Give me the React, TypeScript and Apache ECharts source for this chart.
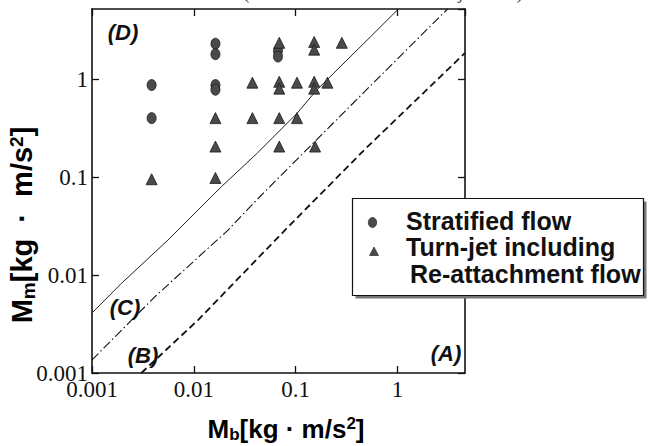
import { useEffect, useRef } from 'react';
import * as echarts from 'echarts';

// ---- data ----
const xTickLabels = ['0.001', '0.01', '0.1', '1'];
const yTickLabels = ['0.001', '0.01', '0.1', '1'];
const X_MIN = 0.001;
const X_MAX = 4.6;
const Y_MIN = 0.001;
const Y_MAX = 5.2;

const stratifiedFlow: [number, number][] = [
  [0.00385, 0.87],
  [0.00385, 0.4],
  [0.0163, 2.3],
  [0.0163, 1.8],
  [0.0163, 0.87],
  [0.0163, 0.78],
  [0.067, 1.95],
  [0.067, 1.7],
];

const turnJetFlow: [number, number][] = [
  [0.00385, 0.095],
  [0.0163, 0.4],
  [0.0163, 0.205],
  [0.0163, 0.098],
  [0.0376, 0.92],
  [0.0376, 0.4],
  [0.069, 2.35],
  [0.069, 0.94],
  [0.069, 0.8],
  [0.069, 0.4],
  [0.069, 0.205],
  [0.103, 0.92],
  [0.103, 0.4],
  [0.152, 2.4],
  [0.152, 2.0],
  [0.152, 0.94],
  [0.152, 0.8],
  [0.155, 0.205],
  [0.205, 0.92],
  [0.284, 2.35],
];

// boundary between regions (C) and (D) – solid
const boundaryCD: [number, number][] = [
  [0.001, 0.0041],
  [0.00194, 0.0082],
  [0.00558, 0.0228],
  [0.0187, 0.08],
  [0.0416, 0.174],
  [0.103, 0.447],
  [0.16, 0.77],
  [0.542, 2.7],
  [1.02, 5.2],
];

// boundary between regions (B) and (C) – dash-dot
const boundaryBC: [number, number][] = [
  [0.001, 0.00136],
  [0.00414, 0.006],
  [0.0217, 0.0288],
  [0.0444, 0.063],
  [0.53, 0.835],
  [3.1, 5.2],
];

// boundary between regions (A) and (B) – dashed
const boundaryAB: [number, number][] = [
  [0.00305, 0.001],
  [0.011, 0.00347],
  [0.0846, 0.0311],
  [0.49, 0.197],
  [4.6, 1.85],
];

const seriesNames = ['Stratified flow', 'Turn-jet including Re-attachment flow'];
const legendLines = ['Stratified flow', 'Turn-jet including', 'Re-attachment flow'];
const regionLabels = ['(A)', '(B)', '(C)', '(D)'];
const titleText = '(at Re-attachment and Turn-jet flow)';

const SERIF = '"Liberation Serif", "Times New Roman", serif';
const SANS = '"Liberation Sans", Arial, sans-serif';

function tickFormatter(labels: string[]) {
  return (v: number) => {
    const e = Math.log10(v) + 3;
    const idx = Math.round(e);
    if (Math.abs(e - idx) > 0.01) return '';
    return labels[idx] ?? '';
  };
}

export default function App() {
  const ref = useRef<HTMLDivElement>(null);

  useEffect(() => {
    document.body.style.margin = '0';
    if (!ref.current) return;
    const chart = echarts.init(ref.current, undefined, { renderer: 'svg' });

    const baseAxis = {
      type: 'log' as const,
      logBase: 10,
      splitLine: { show: false },
      axisLine: { show: true, lineStyle: { color: '#111', width: 1.6 } },
      axisTick: { show: true, inside: true, length: 7, lineStyle: { color: '#111', width: 1.3 } },
      minorTick: { show: false },
    };

    const markerStyle = { color: '#4a4a4a', borderColor: '#1a1a1a', borderWidth: 0.8, opacity: 1 };

    const nameRich = (big: number, small: number) => ({
      a: { fontFamily: SANS, fontWeight: 'bold' as const, fontSize: big, lineHeight: big + 2, color: '#111' },
      s: { fontFamily: SANS, fontWeight: 'bold' as const, fontSize: small, lineHeight: small, verticalAlign: 'bottom' as const, color: '#111' },
      p: { fontFamily: SANS, fontWeight: 'bold' as const, fontSize: small, lineHeight: small, verticalAlign: 'top' as const, color: '#111' },
    });

    const regionPos: [number, number][] = [
      [446, 353],
      [143, 355],
      [125, 307],
      [123, 32],
    ];

    chart.setOption({
      animation: false,
      backgroundColor: '#fff',
      grid: { left: 92, top: 9, right: 184, bottom: 73, containLabel: false },
      xAxis: [
        {
          ...baseAxis,
          min: X_MIN,
          max: X_MAX,
          position: 'bottom',
          axisLabel: {
            show: true,
            margin: 5,
            fontFamily: SERIF,
            fontSize: 23,
            color: '#111',
            showMaxLabel: false,
            formatter: tickFormatter(xTickLabels),
          },
        },
        {
          ...baseAxis,
          min: X_MIN,
          max: X_MAX,
          position: 'top',
          axisLabel: { show: false },
        },
      ],
      yAxis: [
        {
          ...baseAxis,
          min: Y_MIN,
          max: Y_MAX,
          position: 'left',
          axisLabel: {
            show: true,
            margin: 4,
            fontFamily: SERIF,
            fontSize: 23,
            color: '#111',
            showMaxLabel: false,
            formatter: tickFormatter(yTickLabels),
          },
        },
        {
          ...baseAxis,
          min: Y_MIN,
          max: Y_MAX,
          position: 'right',
          axisLabel: { show: false },
        },
      ],
      series: [
        {
          name: 'boundary C-D',
          type: 'line',
          data: boundaryCD,
          symbol: 'none',
          lineStyle: { color: '#222', width: 1, type: 'solid' },
          z: 3,
        },
        {
          name: 'boundary B-C',
          type: 'line',
          data: boundaryBC,
          symbol: 'none',
          lineStyle: { color: '#111', width: 1.1, type: [9, 3, 1.5, 3] },
          z: 3,
        },
        {
          name: 'boundary A-B',
          type: 'line',
          data: boundaryAB,
          symbol: 'none',
          lineStyle: { color: '#111', width: 1.8, type: [7, 4] },
          z: 3,
        },
        {
          name: seriesNames[0],
          type: 'scatter',
          data: stratifiedFlow,
          symbol: 'circle',
          symbolSize: [9, 11],
          itemStyle: markerStyle,
          z: 4,
        },
        {
          name: seriesNames[1],
          type: 'scatter',
          data: turnJetFlow,
          symbol: 'triangle',
          symbolSize: [11, 11],
          itemStyle: markerStyle,
          z: 4,
        },
      ],
      graphic: [
        {
          type: 'text',
          x: 383,
          y: -8,
          z: 50,
          style: { text: titleText, font: `19px ${SERIF}`, fill: '#444', align: 'center', verticalAlign: 'middle' },
        },
        ...regionLabels.map((t, i) => ({
          type: 'text',
          x: regionPos[i][0],
          y: regionPos[i][1],
          z: 50,
          style: {
            text: t,
            font: `italic bold 22px ${SANS}`,
            fill: '#111',
            align: 'center',
            verticalAlign: 'middle',
          },
        })),
        {
          type: 'text',
          x: 286,
          y: 429,
          z: 50,
          style: {
            text: '{a|M}{s|b}{a|[kg · m/s}{p|2}{a|]}',
            rich: nameRich(26, 17),
            align: 'center',
            verticalAlign: 'middle',
          },
        },
        {
          type: 'text',
          x: 22,
          y: 225,
          rotation: Math.PI / 2,
          z: 50,
          style: {
            text: '{a|M}{s|m}{a|[kg  ·  m/s}{p|2}{a|]}',
            rich: nameRich(29, 19),
            align: 'center',
            verticalAlign: 'middle',
          },
        },
        {
          type: 'group',
          z: 100,
          children: [
            {
              type: 'rect',
              z: 100,
              shape: { x: 355.5, y: 201.5, width: 291, height: 97 },
              style: { fill: '#777' },
            },
            {
              type: 'rect',
              z: 101,
              shape: { x: 352.5, y: 198.5, width: 291, height: 97 },
              style: { fill: '#fff', stroke: '#111', lineWidth: 1.2 },
            },
            {
              type: 'ellipse',
              z: 102,
              shape: { cx: 372.5, cy: 222.5, rx: 4.2, ry: 5 },
              style: { fill: '#4a4a4a', stroke: '#1a1a1a', lineWidth: 0.6 },
            },
            {
              type: 'polygon',
              z: 102,
              shape: { points: [[374, 247], [369.5, 255.5], [378.5, 255.5]] },
              style: { fill: '#4a4a4a', stroke: '#1a1a1a', lineWidth: 0.6 },
            },
            {
              type: 'text',
              z: 102,
              x: 406,
              y: 221,
              style: { text: legendLines[0], font: `bold 25px ${SANS}`, fill: '#111', align: 'left', verticalAlign: 'middle' },
            },
            {
              type: 'text',
              z: 102,
              x: 406,
              y: 247,
              style: { text: legendLines[1], font: `bold 25px ${SANS}`, fill: '#111', align: 'left', verticalAlign: 'middle' },
            },
            {
              type: 'text',
              z: 102,
              x: 410,
              y: 274,
              style: { text: legendLines[2], font: `bold 25px ${SANS}`, fill: '#111', align: 'left', verticalAlign: 'middle' },
            },
          ],
        },
      ],
    });

    return () => chart.dispose();
  }, []);

  return <div ref={ref} style={{ width: 649, height: 446 }} />;
}
